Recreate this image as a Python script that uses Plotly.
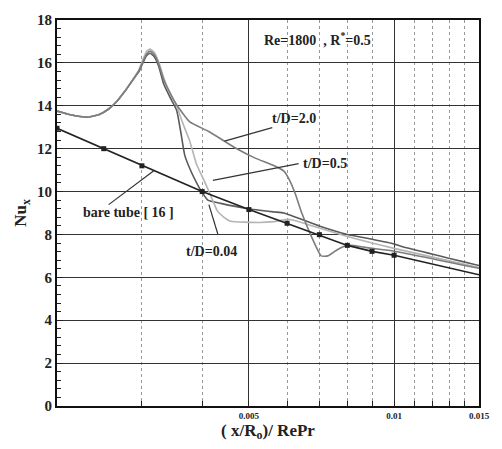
import numpy as np
import plotly.graph_objects as go

# ---------------- data ----------------
bare_x = [0.002, 0.0025, 0.003, 0.004, 0.005, 0.006, 0.007, 0.008, 0.009, 0.010, 0.015]
bare_y = [12.95, 12.0, 11.2, 10.0, 9.16, 8.52, 7.99, 7.49, 7.21, 7.03, 6.12]
bare_marker_x = [0.002, 0.0025, 0.003, 0.004, 0.005, 0.006, 0.007, 0.008, 0.009, 0.010]
bare_marker_y = [12.95, 12.0, 11.2, 10.0, 9.16, 8.52, 7.99, 7.49, 7.21, 7.03]

td20_x = [0.002, 0.0021, 0.0022, 0.0023, 0.00244, 0.00256, 0.00266, 0.00276, 0.00285, 0.00296,
          0.00302, 0.00307, 0.00312, 0.00318, 0.00325, 0.00333,
          0.00343, 0.00354, 0.00377, 0.00413, 0.00469, 0.00514, 0.00564, 0.00591, 0.00608,
          0.00625, 0.00643, 0.00674, 0.00706, 0.00729, 0.00764, 0.0080, 0.009, 0.010, 0.015]
td20_y = [13.75, 13.62, 13.52, 13.47, 13.58, 13.85, 14.2, 14.65, 15.1, 15.65,
          16.1, 16.42, 16.55, 16.4, 15.95, 15.2,
          14.6, 14.05, 13.25, 12.8, 12.03, 11.57, 11.2, 10.95, 10.5,
          9.85, 9.02, 7.9, 7.0, 7.0, 7.3, 7.5, 7.35, 7.22, 6.42]

td05_x = [0.002, 0.0021, 0.0022, 0.0023, 0.00244, 0.00256, 0.00266, 0.00276, 0.00285, 0.00296,
          0.00302, 0.00307, 0.00312, 0.00318, 0.00325, 0.00333,
          0.00343, 0.00354, 0.00363, 0.00377, 0.00389, 0.00404, 0.00417, 0.00430, 0.00444,
          0.00458, 0.00526, 0.00564, 0.00608, 0.0070, 0.0080, 0.009, 0.010, 0.015]
td05_y = [13.75, 13.62, 13.52, 13.47, 13.58, 13.85, 14.2, 14.65, 15.1, 15.7,
          16.2, 16.55, 16.65, 16.5, 16.05, 15.3,
          14.6, 14.0, 13.3, 12.35, 11.3, 10.5, 9.8, 9.1, 8.8,
          8.62, 8.56, 8.6, 8.7, 8.3, 7.9, 7.6, 7.35, 6.45]

td004_x = [0.002, 0.0021, 0.0022, 0.0023, 0.00244, 0.00256, 0.00266, 0.00276, 0.00285, 0.00296,
           0.00302, 0.00307, 0.00312, 0.00318, 0.00325, 0.00333,
           0.00343, 0.00354, 0.00361, 0.00368, 0.0038, 0.00394, 0.0040, 0.00411, 0.00437,
           0.00498, 0.00564, 0.00591, 0.00702, 0.0080, 0.009, 0.010, 0.01033, 0.015]
td004_y = [13.75, 13.62, 13.52, 13.47, 13.58, 13.85, 14.2, 14.65, 15.1, 15.6,
           16.05, 16.35, 16.45, 16.3, 15.85, 15.0,
           14.4, 13.8, 12.8, 11.7, 10.9, 10.2, 9.95, 9.6, 9.45,
           9.2, 9.05, 9.0, 8.38, 8.0, 7.78, 7.56, 7.45, 6.55]

x_major = [0.005, 0.01, 0.015]
x_major_text = ["0.005", "0.01", "0.015"]
x_minor = [0.003, 0.004, 0.006, 0.007, 0.008, 0.009, 0.011, 0.012, 0.013, 0.014]

# labels: (text, text_x, text_y, leader from (x0,y0) to (x1,y1))
labels = [
    ("t/D=2.0", 0.00619, 13.4, (0.00445, 12.35), (0.00559, 12.98)),
    ("t/D=0.5", 0.00719, 11.3, (0.00421, 10.52), (0.00634, 11.3)),
    ("t/D=0.04", 0.00419, 7.2, (0.00413, 9.39), (0.00431, 8.02)),
    ("bare tube [ 16 ]", 0.00281, 9.02, (0.00318, 10.98), (0.00256, 9.39)),
]
header_text = "Re=1800  , R<sup>*</sup>=0.5"
header_pos = (0.00693, 17.13)

SERIF = "Liberation Serif"

fig = go.Figure()

LINE_SHAPE = dict(shape="spline", smoothing=0.45)

fig.add_trace(go.Scatter(x=td004_x, y=td004_y, mode="lines",
                         line=dict(color="#5a5a5a", width=1.6, **LINE_SHAPE),
                         showlegend=False, hoverinfo="skip"))
fig.add_trace(go.Scatter(x=td05_x, y=td05_y, mode="lines",
                         line=dict(color="#b4b4b4", width=1.6, **LINE_SHAPE),
                         showlegend=False, hoverinfo="skip"))
fig.add_trace(go.Scatter(x=td20_x, y=td20_y, mode="lines",
                         line=dict(color="#7c7c7c", width=1.6, **LINE_SHAPE),
                         showlegend=False, hoverinfo="skip"))
fig.add_trace(go.Scatter(x=bare_x, y=bare_y, mode="lines",
                         line=dict(color="#222222", width=1.6),
                         showlegend=False, hoverinfo="skip"))
fig.add_trace(go.Scatter(x=bare_marker_x, y=bare_marker_y, mode="markers",
                         marker=dict(symbol="square", size=5, color="#222222"),
                         showlegend=False, hoverinfo="skip"))

for text, tx, ty, p0, p1 in labels:
    fig.add_trace(go.Scatter(x=[p0[0], p1[0]], y=[p0[1], p1[1]], mode="lines",
                             line=dict(color="#333333", width=1.2),
                             showlegend=False, hoverinfo="skip"))
    fig.add_annotation(x=np.log10(tx), y=ty, xref="x", yref="y", text="<b>" + text + "</b>",
                       showarrow=False,
                       font=dict(family=SERIF, size=14, color="#222"))

fig.add_annotation(x=np.log10(header_pos[0]), y=header_pos[1], xref="x", yref="y",
                   text="<b>" + header_text + "</b>", showarrow=False,
                   font=dict(family=SERIF, size=14, color="#222"))

fig.update_layout(
    width=502, height=449,
    margin=dict(l=57, r=12, t=15, b=38),
    paper_bgcolor="white", plot_bgcolor="white",
    font=dict(family=SERIF),
    xaxis=dict(
        type="log",
        range=[np.log10(0.002), np.log10(0.015)],
        tickmode="array", tickvals=x_major, ticktext=["<b>" + t + "</b>" for t in x_major_text],
        tickfont=dict(family=SERIF, size=9, color="#222"),
        showgrid=True, gridcolor="#333", gridwidth=1,
        ticks="inside", ticklen=5, tickcolor="#222",
        minor=dict(tickmode="array", tickvals=x_minor, showgrid=True,
                   griddash="dot", gridcolor="#999", gridwidth=1,
                   ticks="inside", ticklen=5, tickcolor="#222"),
        showline=True, mirror=True, linecolor="#111", linewidth=2,
        zeroline=False,
        title=dict(text="<b>( x/R<sub>o</sub>)/ RePr</b>", standoff=4,
                   font=dict(family=SERIF, size=17, color="#222")),
    ),
    yaxis=dict(
        range=[0, 18], dtick=2, tick0=0,
        tickprefix="<b>", ticksuffix="</b>",
        tickfont=dict(family=SERIF, size=15, color="#222"),
        showgrid=True, gridcolor="#333", gridwidth=1,
        ticks="inside", ticklen=6, tickcolor="#222",
        minor=dict(dtick=0.4, tick0=0, ticks="inside", ticklen=4, tickcolor="#222",
                   showgrid=False),
        showline=True, mirror=True, linecolor="#111", linewidth=2,
        zeroline=False,
        title=dict(text="<b>Nu<sub>x</sub></b>", standoff=6,
                   font=dict(family=SERIF, size=17, color="#222")),
    ),
)

fig.write_html("out.html")
